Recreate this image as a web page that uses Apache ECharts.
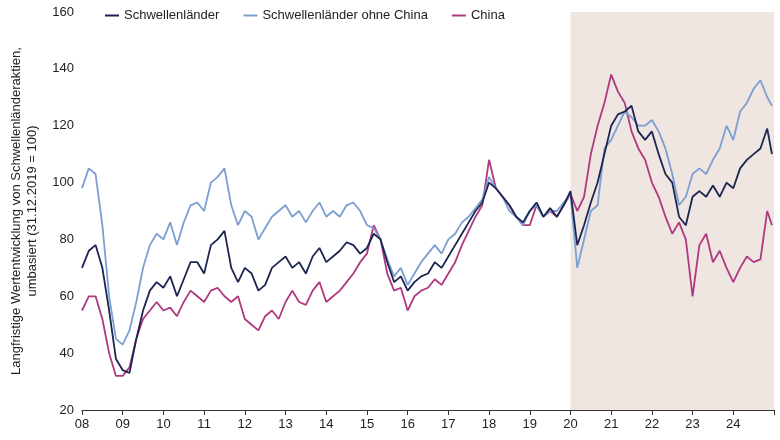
<!DOCTYPE html>
<html lang="de">
<head>
<meta charset="UTF-8">
<script src="https://cdn.jsdelivr.net/npm/echarts@6/dist/echarts.min.js"></script>
<style>
  body { margin: 0; background: #fff; }
  #main { width: 780px; height: 440px; }
</style>
</head>
<body>
<div id="main"></div>
<script>
// Zweimonatliche Werte ab Jan 2008, letzter Punkt Ende 2024
const startYear = 2008;
const schwellen = [
  70,76,78,70,55,38, 34,33,45,55,62,65, 63,67,60,66,72,72, 68,78,80,83,70,65,
  70,68,62,64,70,72, 74,70,72,68,74,77, 72,74,76,79,78,75, 77,82,80,72,65,67,
  62,65,67,68,72,70, 74,78,82,86,90,93, 100,98,95,92,88,86, 90,93,88,91,88,92,
  97,78,85,93,100,110, 120,124,125,127,118,115, 118,110,103,100,88,85,
  95,97,95,99,95,100, 98,105,108,110,112,119, 110
];
const ohneChina = [
  98,105,103,85,60,45, 43,48,58,70,78,82, 80,86,78,86,92,93, 90,100,102,105,92,85,
  90,88,80,84,88,90, 92,88,90,86,90,93, 88,90,88,92,93,90, 85,84,80,73,67,70,
  64,68,72,75,78,75, 80,82,86,88,91,94, 102,98,95,90,88,85, 90,92,88,90,90,93,
  96,70,80,90,92,112, 115,120,125,123,120,120, 122,118,112,103,92,95,
  103,105,103,108,112,120, 115,125,128,133,136,130, 127
];
const china = [
  55,60,60,52,40,32, 32,35,45,52,55,58, 55,56,53,58,62,60, 58,62,63,60,58,60,
  52,50,48,53,55,52, 58,62,58,57,62,65, 58,60,62,65,68,72, 75,85,80,68,62,63,
  55,60,62,63,66,64, 68,72,78,83,88,92, 108,98,95,92,88,85, 85,92,88,90,88,92,
  96,90,95,110,120,128, 138,132,128,118,112,108, 100,95,88,82,86,80,
  60,78,82,72,76,70, 65,70,74,72,73,90, 85
];

function toPoints(arr) {
  return arr.map((v, i) => [i === arr.length - 1 ? 2024.95 : startYear + i / 6, v]);
}

const chart = echarts.init(document.getElementById('main'));
chart.setOption({
  animation: false,
  textStyle: { fontFamily: 'Liberation Sans, Arial, sans-serif' },
  grid: { left: 80, right: 6, top: 12, bottom: 30 },
  legend: {
    top: 4, left: 100, itemGap: 24, itemWidth: 14, itemHeight: 2,
    icon: 'rect',
    textStyle: { fontSize: 13, color: '#222' },
    data: ['Schwellenländer', 'Schwellenländer ohne China', 'China']
  },
  xAxis: {
    type: 'value', min: 2008, max: 2025, interval: 1,
    axisLine: { lineStyle: { color: '#333' } },
    axisTick: { show: true, lineStyle: { color: '#333' } },
    splitLine: { show: false },
    axisLabel: {
      fontSize: 13, color: '#222',
      formatter: v => v >= 2025 ? '' : String(v).slice(2)
    }
  },
  yAxis: {
    type: 'value', min: 20, max: 160, interval: 20,
    name: 'Langfristige Wertentwicklung von Schwellenländeraktien,\numbasiert (31.12.2019 = 100)',
    nameLocation: 'middle', nameGap: 42, nameRotate: 90,
    nameTextStyle: { fontSize: 13, color: '#222', lineHeight: 16 },
    axisLine: { show: false }, axisTick: { show: false },
    splitLine: { show: false },
    axisLabel: { fontSize: 13, color: '#222' }
  },
  series: [
    {
      name: 'Schwellenländer', type: 'line', showSymbol: false, z: 4,
      data: toPoints(schwellen), color: '#1c2552', lineStyle: { width: 1.8 },
      markArea: {
        silent: true, itemStyle: { color: '#efe6e2' },
        data: [[{ xAxis: 2020 }, { xAxis: 2025 }]]
      }
    },
    {
      name: 'Schwellenländer ohne China', type: 'line', showSymbol: false, z: 3,
      data: toPoints(ohneChina), color: '#7b9fd1', lineStyle: { width: 1.8 }
    },
    {
      name: 'China', type: 'line', showSymbol: false, z: 2,
      data: toPoints(china), color: '#b0387f', lineStyle: { width: 1.8 }
    }
  ]
});
</script>
</body>
</html>
